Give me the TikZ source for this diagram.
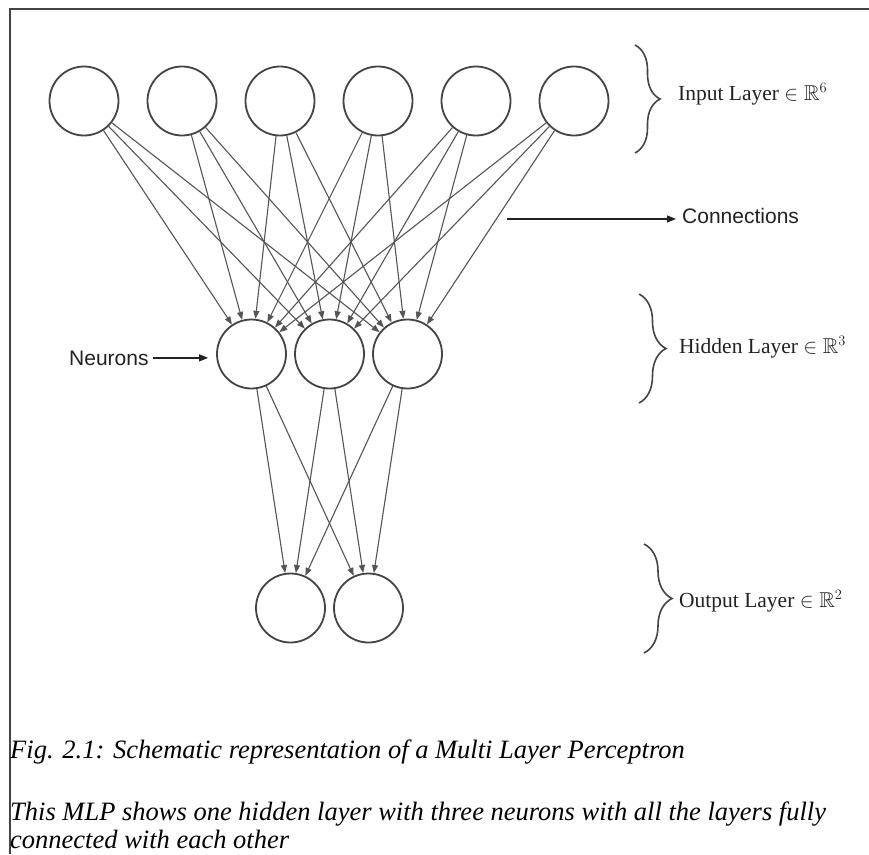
\documentclass[tikz,border=0pt]{standalone}
\usepackage{fontspec}
\usepackage{amssymb}
\setmainfont{Liberation Serif}
\newfontfamily\labelsans{Liberation Sans}
\usetikzlibrary{arrows.meta,decorations.pathreplacing}

\definecolor{ink}{HTML}{444444}
\definecolor{wire}{HTML}{555555}
\definecolor{txt}{HTML}{222222}

\begin{document}
\begin{tikzpicture}[x=1pt,y=-1pt,
  neuron/.style={circle,draw=ink,line width=1.8pt,minimum size=69pt,inner sep=0pt},
  link/.style={draw=wire,line width=1.1pt,-{Triangle[length=8pt,width=6pt]}},
  pointer/.style={draw=txt,line width=1.3pt,-{Triangle[length=9pt,width=7pt]}},
  bracket/.style={draw=ink,line width=1.6pt,decorate,decoration={brace,amplitude=#1}},
  layertext/.style={anchor=base west,inner sep=0pt,text=txt,font=\fontsize{21.5}{24}\selectfont},
  sidetext/.style={anchor=base west,inner sep=0pt,text=txt,font=\labelsans\fontsize{21}{24}\selectfont},
  captext/.style={anchor=base west,inner sep=0pt,text=black,font=\itshape\fontsize{26.5}{30}\selectfont}]

\useasboundingbox[fill=white] (0,0) rectangle (869,854);

% page frame (top and left edges)
\draw[ink,line width=1.5pt] (869,9) -- (10,9) -- (10,854);

% input layer
\foreach \k in {1,...,6}
  \node[neuron] (i\k) at ({84+98*(\k-1)},101) {};
% hidden layer
\node[neuron] (h1) at (251.5,354) {};
\node[neuron] (h2) at (329.5,354) {};
\node[neuron] (h3) at (407.5,354) {};
% output layer
\node[neuron] (o1) at (290.5,608) {};
\node[neuron] (o2) at (368.5,608) {};

% full connections
\foreach \a in {1,...,6}
  \foreach \b in {1,2,3}
    \draw[link] (i\a) -- (h\b);
\foreach \a in {1,2,3}
  \foreach \b in {1,2}
    \draw[link] (h\a) -- (o\b);

% layer braces and labels
\draw[bracket=25pt] (635,45) -- (635,153);
\node[layertext] (lin) at (678,100) {Input Layer $\in \mathbb{R}^6$};
\draw[bracket=27pt] (639,294) -- (639,403);
\node[layertext] (lhid) at (679,353) {Hidden Layer $\in \mathbb{R}^3$};
\draw[bracket=28pt] (644,544) -- (644,653);
\node[layertext] (lout) at (679,607) {Output Layer $\in \mathbb{R}^2$};

% annotations
\coordinate (cstart) at (507,219);
\node[sidetext] (conn) at (682,223) {Connections};
\draw[pointer,shorten >=6pt] (cstart) -- (cstart -| conn.west);
\node[sidetext] (neur) at (69,365) {Neurons};
\draw[pointer,shorten <=4pt,shorten >=8pt] (neur.east) -- (neur.east -| h1.west);

% caption
\node[captext] (cap1) at (10,758) {Fig. 2.1: Schematic representation of a Multi Layer Perceptron};
\node[captext] (cap2) at (10,820) {This MLP shows one hidden layer with three neurons with all the layers fully};
\node[captext] (cap3) at (10,848) {connected with each other};
\end{tikzpicture}
\end{document}
